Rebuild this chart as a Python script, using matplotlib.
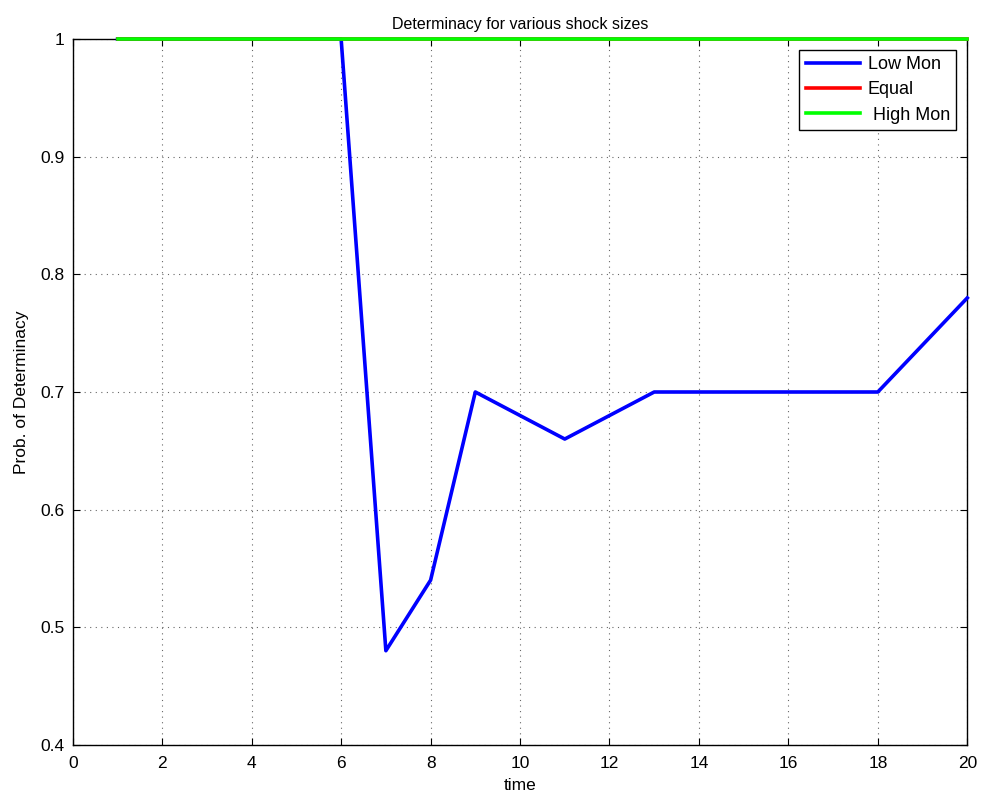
import matplotlib
matplotlib.use("Agg")
import matplotlib.pyplot as plt

time = list(range(1, 21))
low_mon = [1, 1, 1, 1, 1, 1, 0.48, 0.54, 0.70, 0.68, 0.66, 0.68, 0.70, 0.70,
           0.70, 0.70, 0.70, 0.70, 0.74, 0.78]
equal = [1] * 20
high_mon = [1] * 20

plt.rcParams['font.family'] = ['Liberation Sans', 'DejaVu Sans']
plt.rcParams['font.size'] = 11

fig = plt.figure(figsize=(9.84, 8), dpi=100)
ax = fig.add_axes([0.074, 0.069, 0.909, 0.882])

ax.plot(time, low_mon, color='#0000ff', lw=2.6, label='Low Mon', clip_on=False, zorder=3)
ax.plot(time, equal, color='#ff0000', lw=2.6, label='Equal', clip_on=False, zorder=3)
ax.plot(time, high_mon, color='#00ff00', lw=2.6, label=' High Mon', clip_on=False, zorder=3)

ax.set_xlim(0, 20)
ax.set_ylim(0.4, 1)
ax.set_xticks(range(0, 21, 2))
ax.set_yticks([0.4, 0.5, 0.6, 0.7, 0.8, 0.9, 1])
ax.set_yticklabels(['0.4', '0.5', '0.6', '0.7', '0.8', '0.9', '1'])
ax.tick_params(direction='in', length=5, labelsize=12.5, top=True, right=True)
ax.tick_params(axis='x', pad=8)
ax.tick_params(axis='y', pad=6)
ax.grid(True, linestyle=(0, (1, 4)), color='black', lw=0.8, alpha=0.6)
for s in ax.spines.values():
    s.set_linewidth(1)

ax.set_title('Determinacy for various shock sizes', fontsize=11.5, pad=7)
ax.set_xlabel('time', fontsize=12.5, labelpad=5)
ax.set_ylabel('Prob. of Determinacy', fontsize=12.5, labelpad=8)

leg = ax.legend(loc='upper right', fontsize=13, fancybox=False, framealpha=1,
                edgecolor='black', handlelength=3.0, handletextpad=0.45,
                borderaxespad=0.6, labelspacing=0.45, borderpad=0.35)
leg.get_frame().set_linewidth(1)

fig.savefig('out.png', dpi=100)
